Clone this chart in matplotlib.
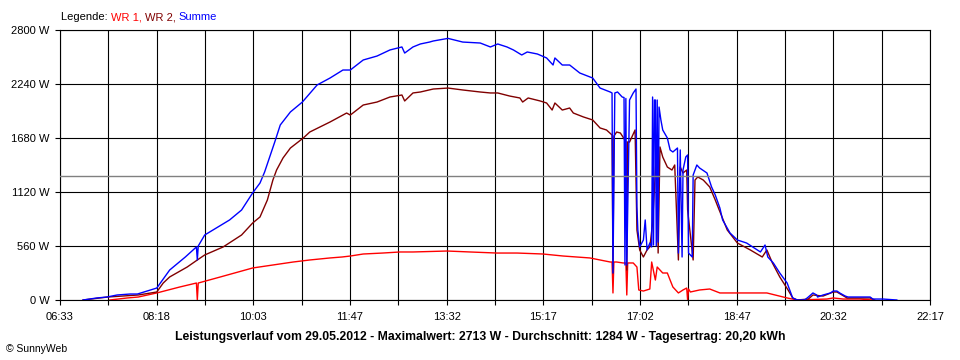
import matplotlib
matplotlib.use("Agg")
import matplotlib.pyplot as plt
import numpy as np

plt.rcParams['font.family'] = ['Liberation Sans', 'DejaVu Sans']

# time in minutes after midnight, power in W
t_sum = [418, 433, 444, 455, 469, 477, 498, 512, 529, 541, 542, 543, 550, 577, 590, 602,
         610, 615, 626, 632, 643, 656, 672, 686, 700, 708, 722, 737, 751, 764, 767, 776,
         784, 794, 798, 814, 830, 849, 860, 868, 878, 885, 894, 900, 911, 921, 928, 930,
         938, 946, 957, 971, 979, 990, 992, 993, 995, 998, 1003, 1005, 1006, 1007, 1008,
         1011, 1015, 1018, 1019, 1020, 1022, 1026, 1028, 1030, 1033, 1035, 1036, 1037,
         1038, 1039, 1040, 1041, 1042, 1043, 1045, 1047, 1052, 1055, 1058, 1063, 1064,
         1066, 1068, 1069, 1072, 1074, 1075, 1079, 1080, 1084, 1087, 1095, 1100, 1104,
         1109, 1112, 1120, 1128, 1138, 1153, 1158, 1161, 1167, 1174, 1182, 1188, 1193,
         1201, 1205, 1210, 1214, 1215, 1221, 1229, 1232, 1236, 1239, 1245, 1248, 1253,
         1261, 1272, 1275, 1286, 1301]
p_sum = [0, 21, 31, 52, 62, 62, 124, 311, 446, 550, 415, 560, 674, 830, 933, 1110,
         1213, 1327, 1638, 1815, 1950, 2053, 2230, 2302, 2385, 2385, 2489, 2530, 2593, 2624, 2561, 2624,
         2655, 2675, 2686, 2713, 2675, 2665, 2624, 2655, 2624, 2593, 2541, 2572, 2551, 2510, 2437, 2510,
         2437, 2437, 2354, 2302, 2198, 2157, 2147, 280, 2147, 2157, 2105, 2100, 363, 2090, 363,
         2074, 2147, 2188, 964, 726, 550, 622, 830, 519, 591, 550, 2105, 570,
         2074, 2074, 560, 2074, 600, 2001, 1867, 1763, 1680, 1556, 1535, 1576, 487,
         1556, 446, 1348, 1483, 1504, 487, 446, 1296, 1400, 1369, 1317, 1172, 1089,
         954, 830, 695, 622, 591, 498, 570, 446, 384, 280, 176, 21, 0,
         0, 31, 73, 52, 31, 52, 73, 93, 93, 73, 41, 31, 31,
         31, 31, 10, 10, 0]

t_wr2 = [418, 445, 478, 498, 505, 512, 531, 542, 550, 570, 590, 602, 610, 618, 624, 628,
         635, 643, 657, 664, 686, 704, 708, 722, 737, 751, 764, 767, 776, 784, 798, 814,
         830, 849, 860, 868, 881, 892, 895, 901, 914, 921, 927, 930, 938, 946, 950, 961,
         971, 979, 986, 992, 993, 994, 997, 1001, 1006, 1007, 1008, 1009, 1011, 1017,
         1019, 1022, 1026, 1030, 1033, 1036, 1041, 1042, 1044, 1047, 1052, 1057, 1060,
         1064, 1066, 1069, 1073, 1074, 1080, 1082, 1085, 1091, 1098, 1104, 1107, 1117,
         1128, 1142, 1155, 1160, 1166, 1174, 1183, 1188, 1193, 1205, 1210, 1221, 1232,
         1236, 1247, 1258, 1272, 1277]
p_wr2 = [0, 31, 52, 83, 176, 239, 342, 415, 467, 550, 674, 798, 861, 1037, 1244, 1348,
         1473, 1576, 1680, 1742, 1846, 1939, 1918, 2022, 2053, 2105, 2126, 2064, 2147, 2157, 2188, 2198,
         2178, 2157, 2147, 2147, 2115, 2095, 2053, 2095, 2064, 2043, 1970, 2043, 1970, 1991, 1939, 1898,
         1867, 1784, 1763, 1711, 280, 1700, 1742, 1732, 1659, 1640, 311, 1640, 1638, 1763,
         726, 519, 446, 519, 550, 798, 1690, 487, 1587, 1483, 1379, 1348, 1400,
         415, 1379, 1317, 1348, 933, 415, 1244, 1276, 1244, 1172, 1037, 964, 726,
         591, 519, 446, 519, 384, 239, 104, 21, 0, 10, 52, 41, 83,
         83, 21, 21, 21, 0]

t_wr1 = [447, 466, 478, 498, 523, 541, 542, 543, 567, 602, 646, 664, 686, 699, 708, 722,
         743, 762, 776, 813, 838, 867, 889, 917, 939, 968, 979, 990, 992, 993, 994, 997,
         1004, 1007, 1008, 1009, 1015, 1019, 1021, 1026, 1033, 1035, 1037, 1039, 1041,
         1044, 1047, 1052, 1055, 1058, 1064, 1069, 1073, 1074, 1075, 1077, 1087, 1098,
         1109, 1138, 1160, 1182, 1193, 1225, 1232, 1243, 1261, 1275]
p_wr1 = [0, 21, 31, 73, 135, 176, 0, 176, 239, 332, 394, 415, 436, 446, 456, 477,
         487, 498, 498, 508, 498, 487, 487, 477, 456, 436, 415, 394, 394, 73, 394, 394,
         384, 384, 52, 384, 384, 342, 104, 93, 114, 394, 300, 207, 342,
         311, 280, 280, 207, 135, 73, 104, 124, 0, 114, 83, 104, 114,
         73, 73, 73, 21, 0, 10, 21, 10, 10, 0]

average = 1284
x_labels = ["06:33", "08:18", "10:03", "11:47", "13:32", "15:17", "17:02", "18:47", "20:32", "22:17"]
y_values = [0, 560, 1120, 1680, 2240, 2800]
title = "Leistungsverlauf vom 29.05.2012 - Maximalwert: 2713 W - Durchschnitt: 1284 W - Tagesertrag: 20,20 kWh"

t_start = 6 * 60 + 33
t_end = 22 * 60 + 17

fig = plt.figure(figsize=(9.6, 3.6), dpi=100)
ax = fig.add_axes([60 / 960, 1 - 300 / 360, 870 / 960, 270 / 360])

ax.plot(t_wr1, p_wr1, color="#ff0000", lw=1.0, zorder=3)
ax.plot(t_wr2, p_wr2, color="#800000", lw=1.0, zorder=4)
ax.plot(t_sum, p_sum, color="#0000ff", lw=1.0, zorder=5)
ax.axhline(average, color="#808080", lw=1.0, zorder=6)

ax.set_xlim(t_start, t_end)
ax.set_ylim(0, 2800)
ax.set_xticks(np.linspace(t_start, t_end, len(x_labels)))
ax.set_xticklabels(x_labels)
ax.set_xticks(np.linspace(t_start, t_end, 2 * len(x_labels) - 1), minor=True)
ax.set_yticks(y_values)
ax.set_yticklabels([f"{v} W" for v in y_values])

ax.grid(which="both", axis="x", color="black", lw=0.8, zorder=1)
ax.grid(which="major", axis="y", color="black", lw=0.8, zorder=1)
ax.set_axisbelow(True)
for s in ax.spines.values():
    s.set_color("black")
    s.set_linewidth(0.8)
ax.tick_params(which="both", direction="out", length=3.6, width=0.8, color="black",
               labelsize=8, labelcolor="black")
ax.tick_params(axis="x", pad=5)
ax.tick_params(axis="y", pad=4)

fig.text(480 / 960, 1 - 337 / 360, title, ha="center", va="center",
         fontsize=8.8, fontweight="bold")
fig.text(6 / 960, 1 - 349 / 360, "\u00a9 SunnyWeb", ha="left", va="center", fontsize=7.5)

# legend made of coloured pieces
fig.canvas.draw()
r = fig.canvas.get_renderer()
x = 61
for txt, col in [("Legende: ", "black"), ("WR 1, ", "#ff0000"), ("WR 2, ", "#800000"), ("Summe", "#0000ff")]:
    t = fig.text(x / 960, 1 - 17 / 360, txt, color=col, fontsize=8, ha="left", va="center")
    x += t.get_window_extent(r).width

fig.savefig("out.png", dpi=100)
